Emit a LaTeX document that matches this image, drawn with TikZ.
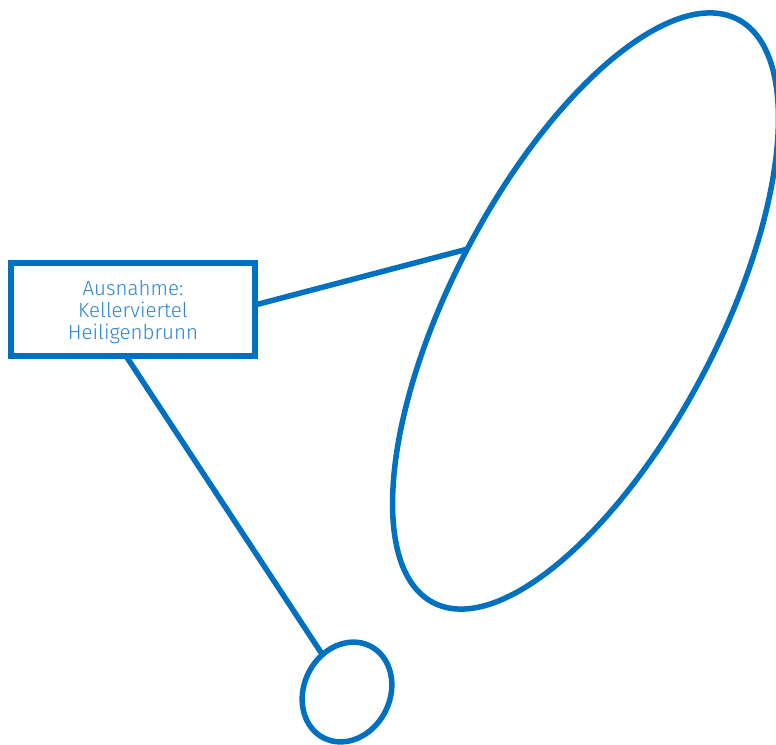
\documentclass[tikz,border=0pt]{standalone}
\usepackage{fontspec}
\setmainfont{Fira Sans}[UprightFont=* Light]
\usetikzlibrary{shapes.geometric}
\definecolor{lineblue}{HTML}{0070C0}
\definecolor{textblue}{HTML}{2A84D0}
\tikzset{
  shapeline/.style={draw=lineblue, line width=5.5bp, inner sep=0pt, outer sep=0pt},
  labelbox/.style={shapeline, rectangle, align=center, text=textblue,
    font=\fontsize{20.6}{22.5}\selectfont},
  oval/.style={shapeline, ellipse},
  link/.style={draw=lineblue, line width=5.5bp}
}
\begin{document}
\begin{tikzpicture}[x=1bp,y=-1bp]
\useasboundingbox (0,0) rectangle (776,745);
\node[labelbox, minimum width=244bp, minimum height=93bp] (box) at (133,309.5)
  {\raisebox{-3.5bp}[\height][\depth]{\begin{tabular}{@{}c@{}}Ausnahme:\\Kellerviertel\\Heiligenbrunn\end{tabular}}};
\node[oval, rotate=62.4, minimum width=658bp, minimum height=267bp] (big) at (585.5,311) {};
\node[oval, rotate=63.3, minimum width=103bp, minimum height=86bp] (small) at (347,692) {};
\draw[link] ([yshift=4.5bp]box.east) -- (big.north);
\draw[link] ([xshift=-7bp]box.south) -- (small);
\end{tikzpicture}
\end{document}
